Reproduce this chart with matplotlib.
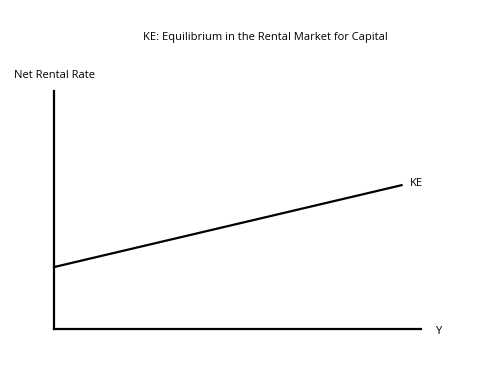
import matplotlib.pyplot as plt

plt.rcParams['font.family'] = ['Open Sans', 'DejaVu Sans']

title = "KE: Equilibrium in the Rental Market for Capital"
y_label = "Net Rental Rate"
x_label = "Y"
curve_label = "KE"

# KE schedule (endpoints)
ke_x = [0.0, 9.5]
ke_y = [2.6, 6.05]

fig = plt.figure(figsize=(5, 3.75), dpi=100)
ax = fig.add_axes([0.108, 0.1227, 0.734, 0.635])
ax.plot(ke_x, ke_y, color='black', lw=1.6, solid_capstyle='butt')
ax.set_xlim(0, 10)
ax.set_ylim(0, 10)
ax.set_xticks([])
ax.set_yticks([])
for s in ['top', 'right']:
    ax.spines[s].set_visible(False)
for s in ['left', 'bottom']:
    ax.spines[s].set_linewidth(1.6)

ax.text(ke_x[-1] + 0.2, ke_y[-1] + 0.05, curve_label, fontsize=8, va='center', ha='left')
fig.text(0.87, 0.117, x_label, fontsize=8, va='center', ha='left')
fig.text(0.028, 0.80, y_label, fontsize=8, va='center', ha='left')
fig.text(0.53, 0.901, title, fontsize=8, va='center', ha='center')

fig.savefig('out.png', dpi=100)
